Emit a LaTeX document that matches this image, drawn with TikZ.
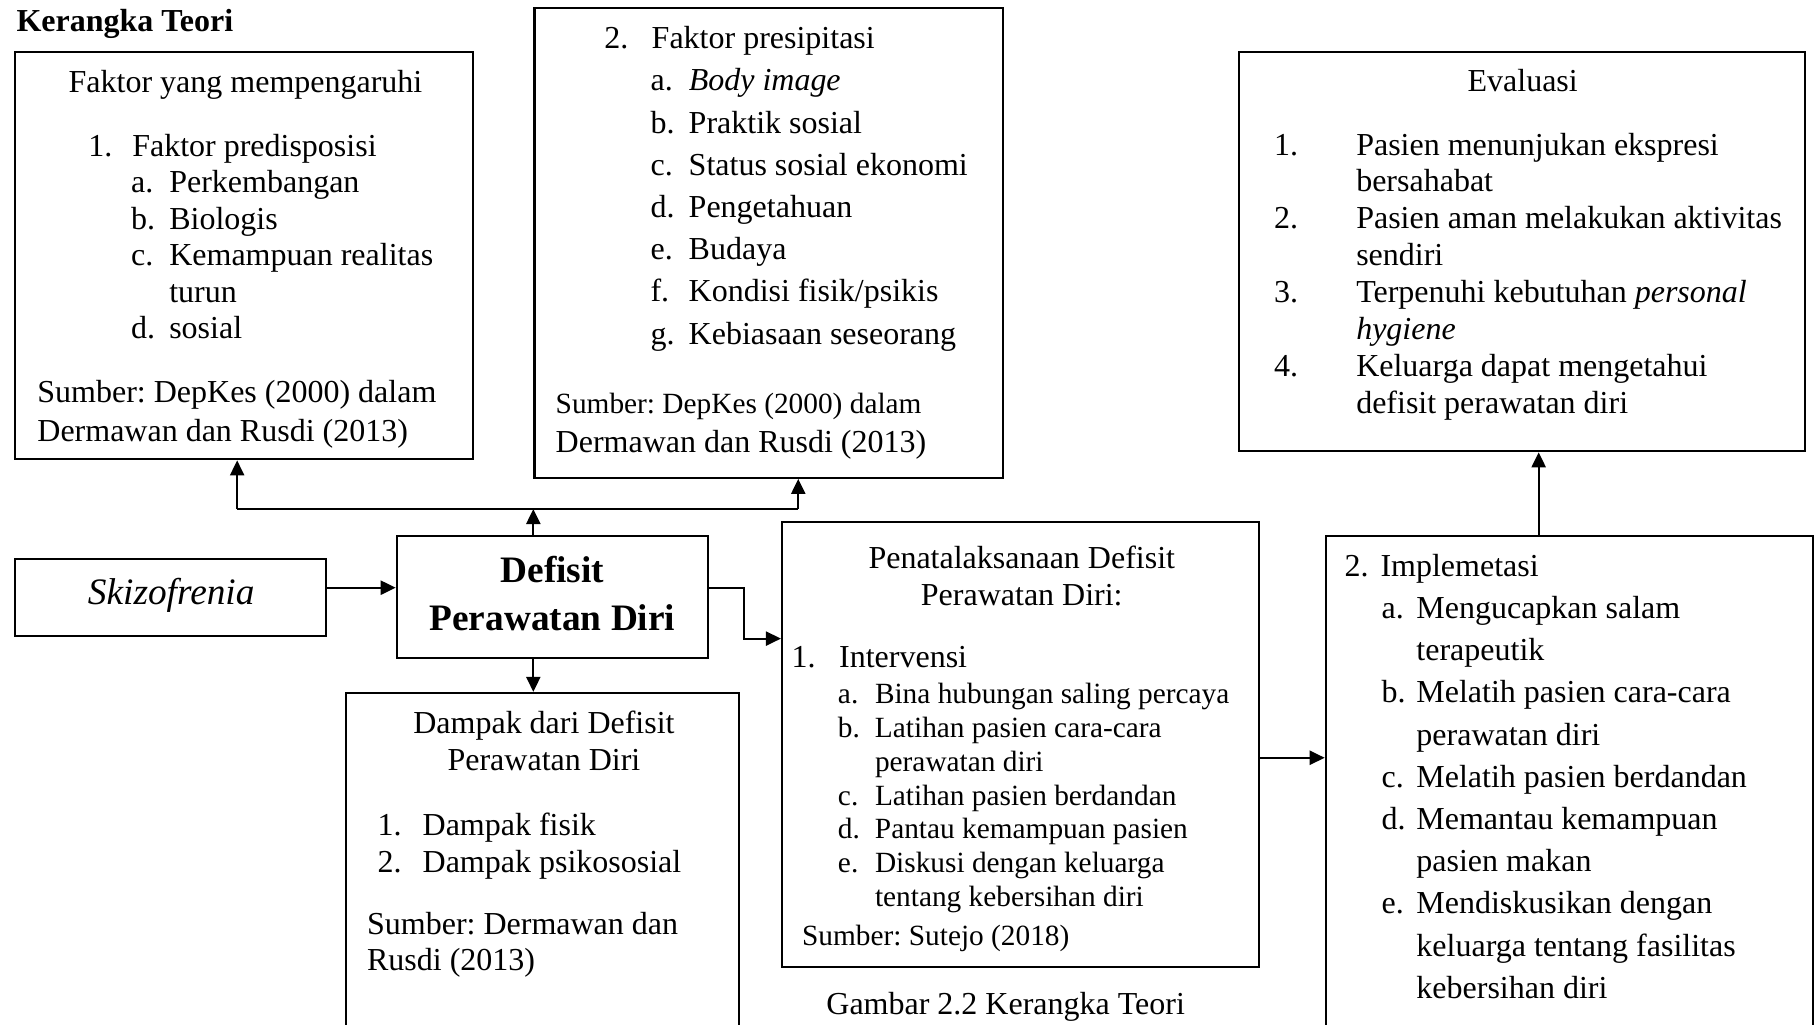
\documentclass[tikz,border=0pt]{standalone}
\usepackage{fontspec}
\setmainfont{Liberation Serif}
\usetikzlibrary{arrows.meta,fit}
\frenchspacing
\newdimen\ux \ux=0.5785pt
\newcommand\txtblock[2]{\vtop{\baselineskip=#1\ux\relax\lineskiplimit=-100pt\lineskip=0pt #2}}
\newcommand\itm[4]{\hbox{\hskip#1\ux\relax\makebox[#2\ux][l]{#3}#4}}
\newcommand\pl[2]{\hbox{\hskip#1\ux\relax #2}}
\newcommand\ctr[1]{\hbox to 0pt{\hss #1\hss}}
\tikzset{
 box/.style={draw, line width=1.1pt, inner sep=0pt},
 txt/.style={inner sep=0pt, anchor=base west, font=\fontsize{16}{18}\selectfont},
 sml/.style={font=\fontsize{14.67}{17}\selectfont},
 arr/.style={line width=1.1pt, -{Triangle[length=7.5pt,width=7pt]}},
 ln/.style={line width=1.1pt},
}
\begin{document}
\begin{tikzpicture}[x=0.5785pt, y=-0.5785pt]
\useasboundingbox (0,0) rectangle (1568,886);
\node[txt, font=\fontsize{16}{18}\selectfont\bfseries] (title) at (14,27) {Kerangka Teori};
% Box 1
\node[box, fit={(13,45) (409,397)}] (b1) {};
\node[txt] (b1h) at (211,80) {\ctr{Faktor yang mempengaruhi}};
\node[txt] (b1l) at (76,135) {\txtblock{31.6}{\itm{0}{38}{1.}{Faktor predisposisi}\itm{37}{33}{a.}{Perkembangan}\itm{37}{33}{b.}{Biologis}\itm{37}{33}{c.}{Kemampuan realitas}\pl{70}{turun}\itm{37}{33}{d.}{sosial}}};
\node[txt] (b1s) at (32,348) {\txtblock{34}{\pl{0}{Sumber: DepKes (2000) dalam}\pl{0}{Dermawan dan Rusdi (2013)}}};
% Box 2
\node[box, fit={(462,7) (867,413)}] (b2) {};
\node[txt] (b2l) at (522,42) {\txtblock{36.5}{\itm{0}{41}{2.}{Faktor presipitasi}\itm{40}{33}{a.}{\textit{Body image}}\itm{40}{33}{b.}{Praktik sosial}\itm{40}{33}{c.}{Status sosial ekonomi}\itm{40}{33}{d.}{Pengetahuan}\itm{40}{33}{e.}{Budaya}\itm{40}{33}{f.}{Kondisi fisik/psikis}\itm{40}{33}{g.}{Kebiasaan seseorang}}};
\node[txt] (b2s) at (480,357) {\txtblock{34}{\hbox{\fontsize{14.67}{17}\selectfont Sumber: DepKes (2000) dalam}\pl{0}{Dermawan dan Rusdi (2013)}}};
% Evaluasi
\node[box, fit={(1071,45) (1560,390)}] (ev) {};
\node[txt] (evh) at (1315,79) {\ctr{Evaluasi}};
\node[txt] (evl) at (1101,134) {\txtblock{31.9}{\itm{0}{71}{1.}{Pasien menunjukan ekspresi}\pl{71}{bersahabat}\itm{0}{71}{2.}{Pasien aman melakukan aktivitas}\pl{71}{sendiri}\itm{0}{71}{3.}{Terpenuhi kebutuhan \textit{personal}}\pl{71}{\textit{hygiene}}\itm{0}{71}{4.}{Keluarga dapat mengetahui}\pl{71}{defisit perawatan diri}}};
% Skizofrenia
\node[box, fit={(13,483) (282,550)}] (sk) {};
\node[inner sep=0pt, font=\fontsize{18.67}{22}\selectfont\itshape] (skt) at (148,515) {Skizofrenia};
% Defisit
\node[box, fit={(343,463) (612,569)}] (df) {};
\node[inner sep=0pt, align=center, font=\fontsize{18.67}{24.3}\selectfont\bfseries] (dft) at (477.5,513) {Defisit\\Perawatan Diri};
% Dampak
\node[box, fit={(299,599) (639,900)}] (dp) {};
\node[txt] (dph) at (469,634) {\txtblock{32}{\ctr{Dampak dari Defisit}\ctr{Perawatan Diri}}};
\node[txt] (dpl) at (326,722) {\txtblock{32}{\itm{0}{39}{1.}{Dampak fisik}\itm{0}{39}{2.}{Dampak psikososial}}};
\node[txt] (dps) at (317,808) {\txtblock{31}{\pl{0}{Sumber: Dermawan dan}\pl{0}{Rusdi (2013)}}};
% Penatalaksanaan
\node[box, fit={(676,451) (1088,836)}] (pn) {};
\node[txt] (pnh) at (882,491) {\txtblock{32}{\ctr{Penatalaksanaan Defisit}\ctr{Perawatan Diri:}}};
\node[txt] (pn1) at (684,577) {\makebox[41\ux][l]{1.}Intervensi};
\node[txt, sml] (pnl) at (724,608) {\txtblock{29.3}{\itm{0}{32}{a.}{Bina hubungan saling percaya}\itm{0}{32}{b.}{Latihan pasien cara-cara}\pl{32}{perawatan diri}\itm{0}{32}{c.}{Latihan pasien berdandan}\itm{0}{32}{d.}{Pantau kemampuan pasien}\itm{0}{32}{e.}{Diskusi dengan keluarga}\pl{32}{tentang kebersihan diri}}};
\node[txt, sml] (pns) at (693,817) {Sumber: Sutejo (2018)};
% Implementasi
\node[box, fit={(1146,463) (1567,900)}] (im) {};
\node[txt] (iml) at (1162,498) {\txtblock{36.5}{\itm{0}{31}{2.}{Implemetasi}\itm{32}{30}{a.}{Mengucapkan salam}\pl{62}{terapeutik}\itm{32}{30}{b.}{Melatih pasien cara-cara}\pl{62}{perawatan diri}\itm{32}{30}{c.}{Melatih pasien berdandan}\itm{32}{30}{d.}{Memantau kemampuan}\pl{62}{pasien makan}\itm{32}{30}{e.}{Mendiskusikan dengan}\pl{62}{keluarga tentang fasilitas}\pl{62}{kebersihan diri}}};
% Caption
\node[txt] (cap) at (714,877) {Gambar 2.2 Kerangka Teori};
% Connectors
\coordinate (busL) at (205,440);
\coordinate (busR) at (690,440);
\coordinate (dx) at (461,0);
\coordinate (ya) at (0,508);
\coordinate (xb) at (643,552);
\coordinate (yc) at (0,655);
\coordinate (xe) at (1330,0);
\draw[arr] (df.north -| dx) -- (dx |- busL);
\draw[ln] (busL) -- (busR);
\draw[arr] (busL) -- (busL |- b1.south);
\draw[arr] (busR) -- (busR |- b2.south);
\draw[arr] (sk.east |- ya) -- (df.west |- ya);
\draw[arr] (df.east |- ya) -| (xb) -- (pn.west |- xb);
\draw[arr] (df.south -| dx) -- (dp.north -| dx);
\draw[arr] (pn.east |- yc) -- (im.west |- yc);
\draw[arr] (im.north -| xe) -- (ev.south -| xe);
\end{tikzpicture}
\end{document}
